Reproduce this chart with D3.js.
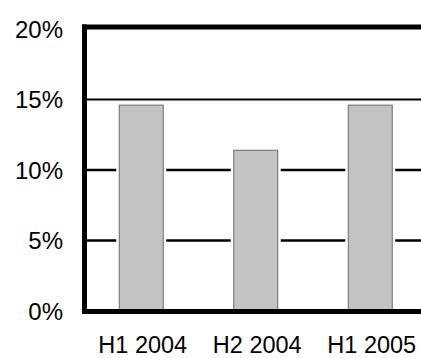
<!DOCTYPE html>
<html>
<head>
<meta charset="utf-8">
<script src="https://cdn.jsdelivr.net/npm/d3@7"></script>
<style>
  html, body { margin: 0; padding: 0; background: #fff; }
  svg { display: block; }
  text { font-family: "Liberation Sans", Arial, sans-serif; fill: #000; }
</style>
</head>
<body>
<div id="chart"></div>
<script>
const categories = ["H1 2004", "H2 2004", "H1 2005"];
const values = [14.6, 11.4, 14.6];
const yTicks = [0, 5, 10, 15, 20];
const yTickLabels = ["0%", "5%", "10%", "15%", "20%"];

const W = 421, H = 358;
const svg = d3.select("#chart").append("svg").attr("width", W).attr("height", H);

const y = d3.scaleLinear().domain([0, 20]).range([311, 29]);
const x = d3.scaleBand().domain(categories).range([84, 427.5])
  .paddingInner(0.616).paddingOuter(0.308);

const left = 84.5, right = W;

// inner gridlines (5%, 10%)
svg.append("g").selectAll("line")
  .data([5, 10]).join("line")
  .attr("x1", left).attr("x2", right)
  .attr("y1", d => y(d)).attr("y2", d => y(d))
  .attr("stroke", "#000").attr("stroke-width", 2.5);

// 15% gridline
svg.append("line")
  .attr("x1", left).attr("x2", right)
  .attr("y1", y(15)).attr("y2", y(15))
  .attr("stroke", "#000").attr("stroke-width", 2);

// bars: white halo then fill
const bars = svg.append("g");
bars.selectAll("rect.halo").data(values).join("rect")
  .attr("class", "halo")
  .attr("x", (d, i) => x(categories[i]) - 3)
  .attr("width", x.bandwidth() + 6)
  .attr("y", d => y(d) - 1)
  .attr("height", d => y(0) - y(d) + 1)
  .attr("fill", "#fff");
bars.selectAll("rect.bar").data(values).join("rect")
  .attr("class", "bar")
  .attr("x", (d, i) => x(categories[i]))
  .attr("width", x.bandwidth())
  .attr("y", d => y(d))
  .attr("height", d => y(0) - y(d))
  .attr("fill", "#c3c3c3")
  .attr("stroke", "#6a6a6a").attr("stroke-width", 1);

// frame: top, bottom, left thick lines
svg.append("line").attr("x1", 82).attr("x2", right)
  .attr("y1", y(20) - 2).attr("y2", y(20) - 2)
  .attr("stroke", "#000").attr("stroke-width", 5);
svg.append("line").attr("x1", 82).attr("x2", right)
  .attr("y1", y(0) + 0.5).attr("y2", y(0) + 0.5)
  .attr("stroke", "#000").attr("stroke-width", 5);
svg.append("line").attr("x1", left).attr("x2", left)
  .attr("y1", y(20) - 4.5).attr("y2", y(0) + 3)
  .attr("stroke", "#000").attr("stroke-width", 5);

// y tick labels
svg.append("g").selectAll("text").data(yTicks).join("text")
  .attr("x", 63).attr("y", d => y(d))
  .attr("dy", "0.36em")
  .attr("text-anchor", "end")
  .attr("font-size", 24)
  .text((d, i) => yTickLabels[i]);

// x labels
svg.append("g").selectAll("text").data(categories).join("text")
  .attr("x", d => x(d) + x.bandwidth() / 2 + 1.5)
  .attr("y", 353)
  .attr("text-anchor", "middle")
  .attr("font-size", 23.5)
  .text(d => d);
</script>
</body>
</html>
